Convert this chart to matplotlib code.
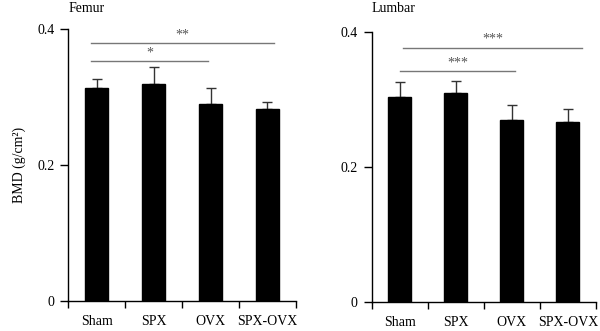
import matplotlib
matplotlib.use("Agg")
import matplotlib.pyplot as plt
import numpy as np

categories = ["Sham", "SPX", "OVX", "SPX-OVX"]
femur_mean = [0.313, 0.320, 0.290, 0.282]
femur_err = [0.014, 0.024, 0.023, 0.011]
lumbar_mean = [0.304, 0.310, 0.270, 0.266]
lumbar_err = [0.021, 0.017, 0.021, 0.020]

# significance annotations: (x_start, x_end, y, label)
femur_sig = [(-0.11, 3.11, 0.3795, "**"), (-0.11, 1.96, 0.353, "*")]
lumbar_sig = [(0.06, 3.25, 0.3765, "***"), (0.0, 2.06, 0.3414, "***")]

plt.rcParams['font.family'] = ['Liberation Serif', 'DejaVu Serif']

fig = plt.figure(figsize=(6.0, 3.31), dpi=100)
ax1 = fig.add_axes([0.114, 0.0906, 0.379, 0.821])
ax2 = fig.add_axes([0.6195, 0.0876, 0.3735, 0.8165])

FS = 10

def draw(ax, means, errs, sigs, title):
    x = np.arange(len(categories))
    ax.bar(x, means, width=0.41, color="black", edgecolor="black", zorder=2)
    ax.errorbar(x, means, yerr=[np.zeros(len(errs)), errs], fmt="none",
                ecolor="#333333", elinewidth=1.0, capsize=3.5, capthick=1.0, zorder=1)
    for xs, xe, y, lab in sigs:
        ax.plot([xs, xe], [y, y], color="#777777", lw=1.0, clip_on=False)
        ax.text((xs + xe) / 2, y + 0.003, lab, ha="center", va="bottom",
                color="#555555", fontsize=10)
    ax.set_xlim(-0.5, 3.5)
    ax.set_ylim(0, 0.4)
    ax.set_yticks([0, 0.2, 0.4])
    ax.set_yticklabels(["0", "0.2", "0.4"])
    ax.set_xticks([-0.5, 0.5, 1.5, 2.5, 3.5])
    ax.set_xticklabels([])
    ax.set_xticks(x, minor=True)
    ax.set_xticklabels(categories, minor=True)
    ax.tick_params(axis="x", which="major", length=5, width=1, direction="out")
    ax.tick_params(axis="x", which="minor", length=0, labelsize=FS, pad=10)
    ax.tick_params(axis="y", length=6, width=1, labelsize=FS, pad=4)
    for s in ["top", "right"]:
        ax.spines[s].set_visible(False)
    for s in ["left", "bottom"]:
        ax.spines[s].set_linewidth(1.0)
    x0 = ax.get_position().x0
    fig.text(x0, 1 - 12 / 331, title, ha="left", va="baseline", fontsize=FS)

draw(ax1, femur_mean, femur_err, femur_sig, "Femur")
draw(ax2, lumbar_mean, lumbar_err, lumbar_sig, "Lumbar")
ax1.set_ylabel("BMD (g/cm²)", fontsize=FS, labelpad=8)

fig.savefig("out.png", dpi=100)
